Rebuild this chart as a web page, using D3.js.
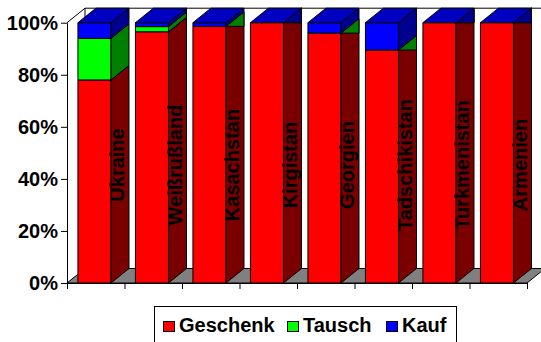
<!DOCTYPE html>
<html>
<head>
<meta charset="utf-8">
<script src="https://cdn.jsdelivr.net/npm/d3@7"></script>
<style>
  html, body { margin: 0; padding: 0; background: #fff; }
  svg { display: block; font-family: "Liberation Sans", Arial, sans-serif; }
</style>
</head>
<body>
<svg id="chart" width="541" height="342"></svg>
<script>
const categories = ["Ukraine", "Weißrußland", "Kasachstan", "Kirgistan", "Georgien", "Tadschikistan", "Turkmenistan", "Armenien"];
const geschenk = [78, 96.5, 98.6, 100, 96, 89.5, 100, 100];
const tausch   = [16, 2,    0,    0,   0,  0,    0,   0];
const kauf     = [6,  1.5,  1.4,  0,   4,  10.5, 0,   0];
const yTicks = [0, 20, 40, 60, 80, 100];
const seriesNames = ["Geschenk", "Tausch", "Kauf"];
const seriesValues = [geschenk, tausch, kauf];
const frontColors = ["#FF0000", "#00FF00", "#0000FF"];
const sideColors  = ["#7A0000", "#008000", "#000090"];
const topColors   = ["#C00000", "#00B000", "#0000C0"];

(function () {
const svg = d3.select("#chart");
const plotL = 67, plotR = 527, plotB = 283, plotT = 22.7;
const dx = 18, dy = 14.5;

const slot = d3.scaleBand().domain(categories).range([plotL, plotR]).padding(0);
const slotIdx = d3.scaleLinear().domain([0, categories.length]).range([plotL, plotR]);
const y = d3.scaleLinear().domain([0, 100]).range([plotB, plotT]);
const barOff = slot.bandwidth() * 0.19, barW = slot.bandwidth() * 0.575;

const line = d3.line();

// back wall top edge and left wall back edge
svg.append("path")
  .attr("d", line([[plotL, y(100)], [plotL + dx, y(100) - dy], [545, y(100) - dy]]))
  .attr("fill", "none").attr("stroke", "#000").attr("stroke-width", 1);
svg.append("path")
  .attr("d", line([[plotL + dx, y(100) - dy], [plotL + dx, y(0) - dy]]))
  .attr("fill", "none").attr("stroke", "#000").attr("stroke-width", 1);

// floor
svg.append("path")
  .attr("d", line([[plotL, y(0)], [plotL + dx, y(0) - dy], [plotR + dx, y(0) - dy], [plotR, y(0)]]) + "Z")
  .attr("fill", "#808080").attr("stroke", "#000").attr("stroke-width", 1);

// axes
const yAxis = d3.axisLeft(y).tickValues(yTicks).tickFormat(d => d + "%").tickSize(6).tickSizeOuter(0).tickPadding(3);
const gy = svg.append("g").attr("transform", `translate(${plotL},0)`).call(yAxis);
gy.selectAll("text").attr("font-size", 20).attr("font-weight", "bold")
  .attr("font-family", "'Liberation Sans', Arial, sans-serif").attr("fill", "#000");
gy.selectAll("line, path").attr("stroke", "#000");

const xAxis = d3.axisBottom(slotIdx).tickValues(d3.range(categories.length + 1)).tickFormat("").tickSize(6).tickSizeOuter(0);
const gx = svg.append("g").attr("transform", `translate(0,${plotB})`).call(xAxis);
gx.selectAll("line, path").attr("stroke", "#000");

// bars
categories.forEach((c, i) => {
  const x0 = slot(c) + barOff, x1 = x0 + barW;
  const g = svg.append("g");
  let cum = 0;
  const segs = seriesValues.map((vals, s) => {
    const b = cum; cum += vals[i];
    return { s, b, t: cum, v: vals[i] };
  });
  segs.forEach(seg => {
    const yb = y(seg.b), yt = y(seg.t);
    if (seg.v > 0) {
      g.append("path").attr("d", line([[x0, yb], [x1, yb], [x1, yt], [x0, yt]]) + "Z")
        .attr("fill", frontColors[seg.s]).attr("stroke", "#000").attr("stroke-width", 1);
      g.append("path").attr("d", line([[x1, yb], [x1 + dx, yb - dy], [x1 + dx, yt - dy], [x1, yt]]) + "Z")
        .attr("fill", sideColors[seg.s]).attr("stroke", "#000").attr("stroke-width", 1);
    } else {
      g.append("path").attr("d", line([[x1, yt], [x1 + dx, yt - dy], [x1 + dx, yt]]) + "Z")
        .attr("fill", sideColors[seg.s]).attr("stroke", "#000").attr("stroke-width", 1);
    }
  });
  const last = segs[segs.length - 1];
  const yt = y(last.t);
  g.append("path").attr("d", line([[x0, yt], [x1, yt], [x1 + dx, yt - dy], [x0 + dx, yt - dy]]) + "Z")
    .attr("fill", topColors[last.s]).attr("stroke", "#000").attr("stroke-width", 1);
});

// category labels inside bars
svg.selectAll("text.cat").data(categories).enter().append("text")
  .attr("class", "cat")
  .attr("transform", d => `translate(${slot(d) + slot.bandwidth() * 0.87},165) rotate(-90)`)
  .attr("text-anchor", "middle").attr("dominant-baseline", "central")
  .attr("font-size", 20).attr("font-weight", "bold").attr("fill", "#000")
  .text(d => d);

// legend
const lg = svg.append("g");
lg.append("rect").attr("x", 154.5).attr("y", 306.5).attr("width", 302).attr("height", 40)
  .attr("fill", "#fff").attr("stroke", "#000").attr("stroke-width", 1);
const legendX = [163, 287, 386];
seriesNames.forEach((n, s) => {
  lg.append("rect").attr("x", legendX[s] + 0.5).attr("y", 321.5).attr("width", 11).attr("height", 10)
    .attr("fill", frontColors[s]).attr("stroke", "#000").attr("stroke-width", 1);
  lg.append("text").attr("x", legendX[s] + 16).attr("y", 332)
    .attr("font-size", 20).attr("font-weight", "bold").attr("fill", "#000").text(n);
});
})();
</script>
</body>
</html>
